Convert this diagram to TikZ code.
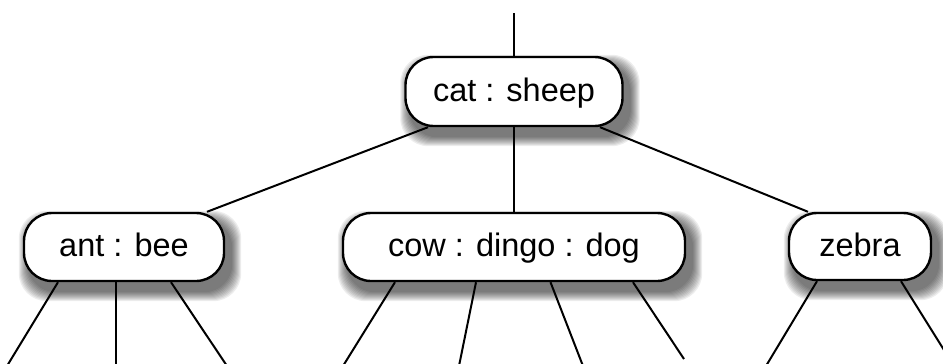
\documentclass[tikz,border=0pt]{standalone}
\usepackage{fontspec}
\setmainfont{Liberation Sans}
\usetikzlibrary{calc}
\pgfdeclarelayer{background}
\pgfdeclarelayer{shade}
\pgfsetlayers{background,shade,main}

% soft drop shadow behind a node, built from stacked translucent fills
\newcommand\castshadow[1]{%
  \foreach \r in {1,...,10}{%
    \fill[black, opacity=0.07, rounded corners=28pt]
      ($(#1.north west)+(6-\r,9-\r)$) rectangle ($(#1.south east)+(6+\r,9+\r)$);
  }}

\begin{document}
\begin{tikzpicture}[x=1pt,y=-1pt,
  key/.style={draw=black, line width=2.4pt, fill=white, rounded corners=28pt,
    minimum height=68pt, inner sep=0pt, text height=22pt, text depth=3pt,
    font=\fontsize{32.5}{36}\selectfont},
  link/.style={line width=2pt, draw=black}]

\path[use as bounding box] (0,0) rectangle (943,364);
\clip (0,0) rectangle (943,364);

% B-tree nodes
\node[key, minimum width=217pt, minimum height=69pt] (cs) at (514,91.5) {cat : sheep};
\node[key, minimum width=200pt] (ab) at (124,247) {ant : bee};
\node[key, minimum width=342pt] (cdd) at (514,247) {cow : dingo : dog};
\node[key, minimum width=142pt, minimum height=67pt] (zb) at (860,246.5) {zebra};

\begin{pgfonlayer}{shade}
  \castshadow{cs}
  \castshadow{ab}
  \castshadow{cdd}
  \castshadow{zb}
\end{pgfonlayer}

% free ends of the links
\coordinate (top) at (514,13);
\coordinate (a1) at (7,366);
\coordinate (a2) at (116,366);
\coordinate (a3) at (227,366);
\coordinate (c1) at (343,366);
\coordinate (c2) at (459,366);
\coordinate (c3) at (583,366);
\coordinate (c4) at (684,359);
\coordinate (z1) at (766,366);
\coordinate (z2) at (954,366);

\begin{pgfonlayer}{background}
  \draw[link] (top) -- (cs.north);
  \draw[link] ($(cs.south)+(-86,0)$) -- ($(ab.north)+(83,0)$);
  \draw[link] (cs.south) -- (cdd.north);
  \draw[link] ($(cs.south)+(86,0)$) -- ($(zb.north)+(-52,0)$);

  \draw[link] ($(ab.south)+(-66,0)$) -- (a1);
  \draw[link] ($(ab.south)+(-8,0)$) -- (a2);
  \draw[link] ($(ab.south)+(47,0)$) -- (a3);

  \draw[link] ($(cdd.south)+(-119,0)$) -- (c1);
  \draw[link] ($(cdd.south)+(-38,0)$) -- (c2);
  \draw[link] ($(cdd.south)+(36.5,0)$) -- (c3);
  \draw[link] ($(cdd.south)+(119,0)$) -- (c4);

  \draw[link] ($(zb.south)+(-43,0)$) -- (z1);
  \draw[link] ($(zb.south)+(41,0)$) -- (z2);
\end{pgfonlayer}
\end{tikzpicture}
\end{document}
